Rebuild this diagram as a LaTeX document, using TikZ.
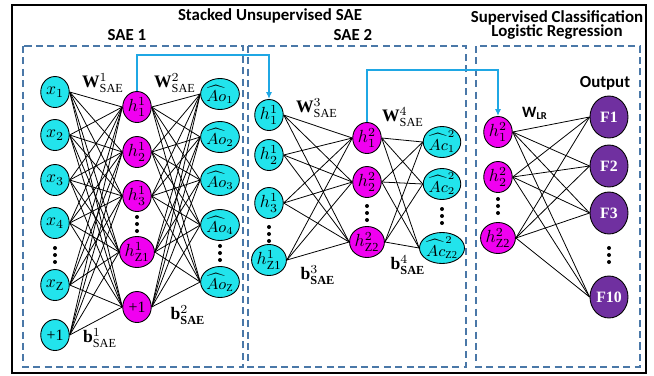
\documentclass[tikz,border=0pt]{standalone}
\usepackage{fontspec}
\setmainfont{Liberation Serif}
\newfontfamily\headfont{Carlito}
\usetikzlibrary{arrows.meta, shapes.geometric, backgrounds}

\begin{document}
\begin{tikzpicture}[
    x=0.02cm, y=-0.02cm,
    every node/.style={font=\normalsize},
]

% ---------------------------------------------------------------- colours
\definecolor{incyan}{HTML}{22E4EC}   % visible / reconstructed units
\definecolor{hidmag}{HTML}{F000F0}   % hidden units
\definecolor{outpurple}{HTML}{7030A0}
\definecolor{feedblue}{HTML}{1FA7E4}
\definecolor{panelblue}{HTML}{4A78A8}

\tikzset{
    unit/.style={ellipse, draw=black, line width=0.5pt, inner sep=0pt,
        minimum width=0.57cm, minimum height=0.62cm},
    inunit/.style={unit, fill=incyan},
    recunit/.style={unit, fill=incyan, font=\small},
    hidunit/.style={unit, fill=hidmag},
    outunit/.style={unit, fill=outpurple, text=white,
        minimum width=0.76cm, minimum height=0.84cm, font=\small\bfseries},
    wire/.style={line width=0.45pt, black},
    feed/.style={-{Latex[length=4pt, width=3.5pt]}, line width=0.9pt, feedblue},
    panel/.style={draw=panelblue, line width=0.8pt, dash pattern=on 4pt off 2.5pt},
    heading/.style={font=\headfont\bfseries\fontsize{9.6}{10.5}\selectfont},
    wlabel/.style={font=\normalsize},
}

% three big dots standing for the units left out
\newcommand{\unitdots}[2]{%
    \foreach \dy in {-7,0,7} \fill (#1,#2+\dy) circle (2);
}

\useasboundingbox (0,0) rectangle (654,376);

% ================================================================
% frame, panels, headings  (coordinates in pixels of the 654 x 376 sheet)
% ================================================================
\draw[line width=1.6pt] (12,5) rectangle (646,373);
\draw[panel] (23,46) rectangle (243,367);
\draw[panel] (248,46) rectangle (466,367);
\draw[panel] (476,46) rectangle (640,367);

\node[heading] (ttlstack) at (270,16) {Stacked Unsupervised SAE};
\node[heading] (ttlsae1) at (127,35) {SAE 1};
\node[heading] (ttlsae2) at (353,35) {SAE 2};
\node[heading, align=center] (ttlsup) at (557,25)
    {Supervised Classification\\[-2pt]Logistic Regression};

% ----------------------------------------------------------------------
% SAE 1 : x -> h^1 -> reconstructed Ao
% ----------------------------------------------------------------------
\node[inunit] (x1) at (55,92)  {$x_1$};
\node[inunit] (x2) at (55,135) {$x_2$};
\node[inunit] (x3) at (55,180) {$x_3$};
\node[inunit] (x4) at (55,223) {$x_4$};
\node[inunit] (xz) at (55,285) {$x_{\mathrm{Z}}$};
\node[inunit, font=\small] (xb) at (55,335) {+1};
\unitdots{55}{255}

\node[hidunit] (h1) at (137,107) {$h^1_1$};
\node[hidunit] (h2) at (137,152) {$h^1_2$};
\node[hidunit] (h3) at (137,196) {$h^1_3$};
\node[hidunit] (hz) at (137,252) {$h^1_{\mathrm{Z1}}$};
\node[hidunit, font=\small] (hb) at (137,307) {+1};
\unitdots{137}{224}

\node[recunit] (o1) at (220,94)  {$\widehat{Ao}_1$};
\node[recunit] (o2) at (220,137) {$\widehat{Ao}_2$};
\node[recunit] (o3) at (220,180) {$\widehat{Ao}_3$};
\node[recunit] (o4) at (220,225) {$\widehat{Ao}_4$};
\node[recunit] (oz) at (220,282) {$\widehat{Ao}_{\mathrm{Z}}$};
\unitdots{220}{253}

\begin{scope}[on background layer]
\foreach \i in {x1,x2,x3,x4,xz,xb}
    \foreach \j in {h1,h2,h3,hz,hb}
        \draw[wire] (\i.east) -- (\j.west);
\foreach \i in {h1,h2,h3,hz,hb}
    \foreach \j in {o1,o2,o3,o4,oz}
        \draw[wire] (\i.east) -- (\j.west);
\end{scope}

\node[wlabel] (w1) at (103,83)  {$\mathbf{W}^{1}_{\mathrm{SAE}}$};
\node[wlabel] (w2) at (175,83)  {$\mathbf{W}^{2}_{\mathrm{SAE}}$};
\node[wlabel] (bb1) at (100,338) {$\mathbf{b}^{1}_{\mathrm{SAE}}$};
\node[wlabel] (bb2) at (188,315) {$\mathbf{b}^{2}_{\mathbf{SAE}}$};

% ----------------------------------------------------------------------
% SAE 2 : h^1 -> h^2 -> reconstructed Ac
% ----------------------------------------------------------------------
\node[inunit] (a1) at (269,115) {$h^1_1$};
\node[inunit] (a2) at (269,155) {$h^1_2$};
\node[inunit] (a3) at (269,203) {$h^1_3$};
\node[inunit] (az) at (269,260) {$h^1_{\mathrm{Z1}}$};
\unitdots{269}{234}

\node[hidunit] (b1) at (367,138) {$h^2_1$};
\node[hidunit] (b2) at (367,182) {$h^2_2$};
\node[hidunit] (bz) at (367,242) {$h^2_{\mathrm{Z2}}$};
\unitdots{367}{213}

\node[recunit] (c1) at (442,142) {$\widehat{Ac}^2_1$};
\node[recunit] (c2) at (442,184) {$\widehat{Ac}^2_2$};
\node[recunit] (cz) at (442,248) {$\widehat{Ac}^2_{\mathrm{Z2}}$};
\unitdots{442}{216}

\begin{scope}[on background layer]
\foreach \i in {a1,a2,a3,az}
    \foreach \j in {b1,b2,bz}
        \draw[wire] (\i.east) -- (\j.west);
\foreach \i in {b1,b2,bz}
    \foreach \j in {c1,c2,cz}
        \draw[wire] (\i.east) -- (\j.west);
\end{scope}

\node[wlabel] (w3) at (317,108) {$\mathbf{W}^{3}_{\mathrm{SAE}}$};
\node[wlabel] (w4) at (403,117) {$\mathbf{W}^{4}_{\mathrm{SAE}}$};
\node[wlabel] (bb3) at (318,275) {$\mathbf{b}^{3}_{\mathbf{SAE}}$};
\node[wlabel] (bb4) at (408,265) {$\mathbf{b}^{4}_{\mathbf{SAE}}$};

% ----------------------------------------------------------------------
% logistic regression on h^2
% ----------------------------------------------------------------------
\node[hidunit] (r1) at (498,132) {$h^2_1$};
\node[hidunit] (r2) at (498,177) {$h^2_2$};
\node[hidunit] (rz) at (498,238) {$h^2_{\mathrm{Z2}}$};
\unitdots{498}{206}

\node[outunit] (f1)  at (609,117) {F1};
\node[outunit] (f2)  at (609,166) {F2};
\node[outunit] (f3)  at (609,213) {F3};
\node[outunit] (f10) at (609,297) {F10};
\unitdots{609}{255}

\begin{scope}[on background layer]
\foreach \i in {r1,r2,rz}
    \foreach \j in {f1,f2,f3,f10}
        \draw[wire] (\i.east) -- (\j.west);
\end{scope}

\node[font=\headfont\bfseries\small] (wlr) at (535,113) {W\textsubscript{LR}};
\node[heading] (outhead) at (605,83) {Output};

% ----------------------------------------------------------------------
% hidden codes handed on to the next stage
% ----------------------------------------------------------------------
\coordinate (lift1) at (0,55);
\coordinate (lift2) at (0,70);
\draw[feed] (h1.north) -- (h1.north |- lift1) -| (a1.north);
\draw[feed] (b1.north) -- (b1.north |- lift2) -| (r1.north);

\end{tikzpicture}
\end{document}
